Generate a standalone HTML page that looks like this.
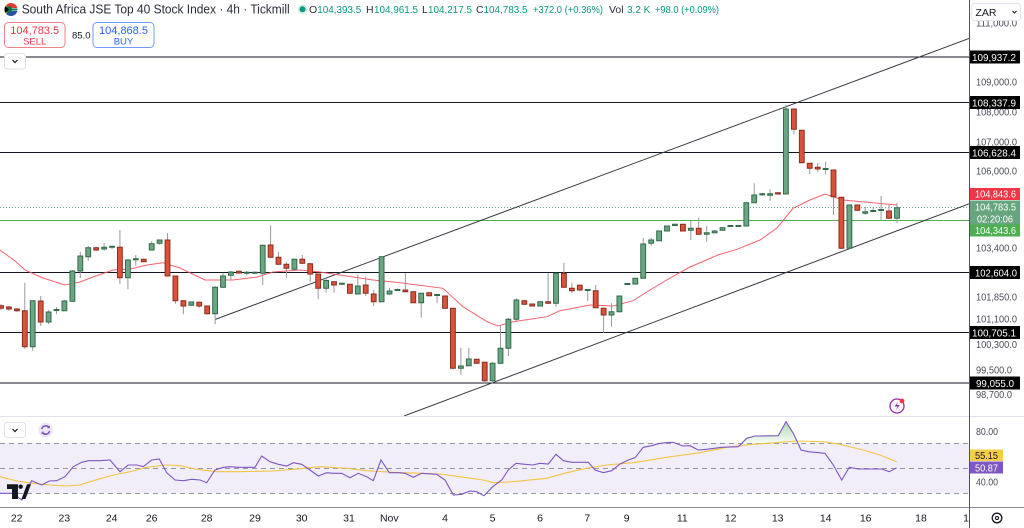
<!DOCTYPE html>
<html><head><meta charset="utf-8"><style>
html,body{margin:0;padding:0;background:#fff;}
svg{display:block;font-family:"Liberation Sans",sans-serif;}
.w{stroke:#9a9a9a;stroke-width:1;fill:none}
.g{fill:#6ba583;stroke:#2f6b48;stroke-width:1}
.r{fill:#d9533b;stroke:#8b2c1e;stroke-width:1}
.ax{font-size:10.5px;fill:#4a4d57}
.bl{font-size:10.5px;fill:#fff}
.xl{font-size:10.5px;fill:#131722;text-anchor:middle}
.hd{font-size:10.5px;fill:#2a2e39}
.hv{font-size:10px;fill:#089981}
</style></head><body>
<svg width="1024" height="528" viewBox="0 0 1024 528" xmlns="http://www.w3.org/2000/svg">
<rect width="1024" height="528" fill="#fff"/>
<defs>
<linearGradient id="gf" x1="0" y1="0" x2="0" y2="1"><stop offset="0" stop-color="#4caf50" stop-opacity="0.45"/><stop offset="1" stop-color="#4caf50" stop-opacity="0.05"/></linearGradient>
<clipPath id="flag"><circle cx="11" cy="9.5" r="6.5"/></clipPath>
<clipPath id="pane"><rect x="0" y="0" width="969" height="416"/></clipPath>
</defs>

<rect x="0" y="443" width="969" height="50" fill="#f1eef9"/>
<g stroke="#9598a1" stroke-width="1" stroke-dasharray="5 4">
<path d="M0 443.5H969M0 468.5H969M0 493.5H969"/>
</g>

<g stroke="#131722" stroke-width="1">
<path d="M0 57H969M0 102.5H969M0 152.5H969M0 272.5H969M0 332.5H969M0 383H969"/>
</g>
<path d="M0 220.5H969" stroke="#4caf50" stroke-width="1"/>
<path d="M0 207.5H969" stroke="#6aa785" stroke-width="1" stroke-dasharray="1 2"/>

<g clip-path="url(#pane)" stroke="#3a3d45" stroke-width="1" fill="none">
<path d="M215 319.5L969 38.5"/>
<path d="M404 416L969 203.8"/>
</g>

<polyline fill="none" stroke="#f5505e" stroke-width="1" stroke-opacity="0.9" points="0,250 15,261 25,270 43,278 65,285 80,282 93,277 113,270 130,269 147,265 163,262.7 180,268 205,280 233,280 257,277 273,272 300,270 320,272 373,280 400,282.7 443,288.3 463,306.7 487,321.7 498,326 513,321.7 547,316.7 560,310.7 590,305 613,306 633,300.7 650,290 670,278 690,267 718,255 737,249.3 760,240 777,228 793,208.3 810,200 825,194 843,200 897,205"/>

<path class="w" d="M1 304V310M8.9 306V311M16.9 308V312M24.8 282.7V348.7M32.7 300.7V350.7M40.7 296V326M48.6 310V324M56.5 307V314M64.4 300V311M72.4 270V302M80.3 251.7V278M88.2 246V261M96.2 247V251M104.1 243V250.7M112 246V249.3M119.9 230V284.3M127.9 259V289.3M135.8 255V265.7M143.7 258.5V262M151.7 241.3V250.5M159.6 240V244.7M167.5 233.3V276.5M175.4 275.5V303.7M183.4 300V314.3M191.3 301.5V306M199.2 301.5V307.7M207.2 305.5V314.5M215.1 286V324.3M223 272.7V288M230.9 271V280M238.9 270.5V274M246.8 271V275.3M254.7 271.5V274M262.7 244.5V285M270.6 225.3V258M278.5 251.7V265M286.4 261.7V278.3M294.4 258.5V270M302.3 255V264M310.2 263V281.7M318.2 273.5V299.3M326.1 278V292.7M334 281V292.7M341.9 282.5V285M349.9 284V294M357.8 275V294.5M365.7 276.7V296M373.7 290V306M381.6 256V302M389.5 287.7V295M397.4 288.5V291M405.4 273.3V292M413.3 291V303M421.2 293V317.7M429.2 292V296.5M437.1 294V302.7M445 295.5V309M452.9 308V369.5M460.9 347.7V375M468.8 347.7V366.5M476.7 358.5V364M484.7 361.5V383.3M492.6 361.7V383.3M500.5 325V364M508.4 318V356M516.4 298.3V321.7M524.3 300V305M532.2 303.5V306.5M540.2 301V306.5M548.1 273.3V304M556 273V306.7M563.9 262.7V288M571.9 282.7V293.3M579.8 284.5V291M587.7 289V301M595.7 285V308M603.6 307.5V332.7M611.5 303.3V326.7M619.4 295.5V312.5M627.4 283V285M635.3 278V284.5M643.2 238V279M651.2 237.7V245.7M659.1 230.5V241.3M667 225.5V231.5M674.9 223.5V226M682.9 224V231.5M690.8 221V240M698.7 217.7V235M706.7 226V241.7M714.6 230V233.5M722.5 227V231M730.4 225V227M738.4 225V227M746.3 202V226.5M754.2 183.3V203M762.2 193V196M770.1 189.3V201M778 192.5V194.5M785.9 105V194.5M793.9 108.5V134.3M801.8 130V163M809.7 163V174.3M817.7 163V172M825.6 161.7V174.3M833.5 169.5V215M841.4 197V249M849.4 204.5V249M857.3 204.5V211M865.2 206.7V215M873.2 206.7V212M881.1 196V220M889 205V219M897 202.7V223.3"/>

<path class="g" d="M30.3 300.7h4.8v46h-4.8zM46.2 312h4.8v10h-4.8zM54.1 309.5h4.8v1h-4.8zM62 301h4.8v9.7h-4.8zM70 271h4.8v30.3h-4.8zM77.9 256h4.8v15h-4.8zM85.8 247.7h4.8v9h-4.8zM101.7 247.3h4.8v1.7h-4.8zM109.6 246.2h4.8v1h-4.8zM125.5 260h4.8v17.7h-4.8zM133.4 258.8h4.8v1h-4.8zM149.3 243.7h4.8v6.3h-4.8zM157.2 240h4.8v3.3h-4.8zM188.9 302h4.8v3.3h-4.8zM212.7 287.3h4.8v26.4h-4.8zM220.6 276h4.8v11.3h-4.8zM228.5 272h4.8v3.3h-4.8zM244.4 272.2h4.8v1h-4.8zM252.3 272.2h4.8v1h-4.8zM260.3 245.3h4.8v28h-4.8zM292 259.3h4.8v10h-4.8zM323.7 280.5h4.8v7.8h-4.8zM339.5 283.2h4.8v1h-4.8zM355.4 286h4.8v8h-4.8zM379.2 256.7h4.8v45h-4.8zM387.1 291h4.8v3h-4.8zM395 289.5h4.8v1h-4.8zM418.8 293.3h4.8v9.4h-4.8zM434.7 294.5h4.8v1h-4.8zM458.5 366h4.8v2.3h-4.8zM466.4 359h4.8v6.7h-4.8zM490.2 363.3h4.8v17.4h-4.8zM498.1 348.3h4.8v15h-4.8zM506 319.3h4.8v29h-4.8zM514 300h4.8v19.3h-4.8zM537.8 301.7h4.8v4.3h-4.8zM553.6 273.3h4.8v30h-4.8zM585.3 289.5h4.8v1h-4.8zM609.1 311.7h4.8v3.3h-4.8zM617 296h4.8v15.7h-4.8zM625 283.5h4.8v1h-4.8zM632.9 278.3h4.8v5.7h-4.8zM640.8 244h4.8v34.3h-4.8zM648.8 240h4.8v3.3h-4.8zM656.7 231h4.8v9.7h-4.8zM664.6 226h4.8v5h-4.8zM672.5 224.3h4.8v1.2h-4.8zM688.4 228.3h4.8v2h-4.8zM704.3 232.7h4.8v1.6h-4.8zM712.2 231h4.8v1.7h-4.8zM720.1 227.7h4.8v2.6h-4.8zM728 225.5h4.8v1h-4.8zM736 225.5h4.8v1h-4.8zM743.9 202.7h4.8v23.3h-4.8zM751.8 195h4.8v7.7h-4.8zM759.8 193.8h4.8v1h-4.8zM767.7 193.7h4.8v1.6h-4.8zM783.5 109h4.8v85h-4.8zM823.2 168.5h4.8v1h-4.8zM847 205h4.8v43.3h-4.8zM862.8 211.7h4.8v1.6h-4.8zM870.8 210.5h4.8v1h-4.8zM878.7 209.5h4.8v1h-4.8zM894.6 207.7h4.8v10.6h-4.8z"/>

<path class="r" d="M-1.4 305.7h4.8v2.6h-4.8zM6.5 307h4.8v2h-4.8zM14.5 309h4.8v1.7h-4.8zM22.4 310.7h4.8v36h-4.8zM38.3 301h4.8v21h-4.8zM93.8 247.7h4.8v2.3h-4.8zM117.5 247.3h4.8v30.4h-4.8zM141.3 259.3h4.8v2.4h-4.8zM165.1 240h4.8v36h-4.8zM173 276h4.8v24.7h-4.8zM181 300.7h4.8v5.3h-4.8zM196.8 302.3h4.8v3.7h-4.8zM204.8 306h4.8v7.7h-4.8zM236.5 271.3h4.8v1.7h-4.8zM268.2 245h4.8v12.3h-4.8zM276.1 257.3h4.8v7h-4.8zM284 264.3h4.8v4h-4.8zM299.9 259.3h4.8v4h-4.8zM307.8 263.7h4.8v10.3h-4.8zM315.8 274h4.8v14.3h-4.8zM331.6 281.7h4.8v3.3h-4.8zM347.5 284.3h4.8v9h-4.8zM363.3 285h4.8v8.3h-4.8zM371.3 294h4.8v7.7h-4.8zM403 290h4.8v1.7h-4.8zM410.9 291.7h4.8v11h-4.8zM426.8 292.7h4.8v3h-4.8zM442.6 296h4.8v12.3h-4.8zM450.5 308.3h4.8v60h-4.8zM474.3 359.3h4.8v4h-4.8zM482.3 362.3h4.8v18.4h-4.8zM521.9 300.7h4.8v3.6h-4.8zM529.8 304h4.8v2h-4.8zM545.7 301.7h4.8v1.6h-4.8zM561.5 273.3h4.8v14h-4.8zM569.5 288.3h4.8v2.4h-4.8zM577.4 285.3h4.8v4.7h-4.8zM593.3 290.7h4.8v17h-4.8zM601.2 308.3h4.8v6.7h-4.8zM680.5 224.3h4.8v6.7h-4.8zM696.3 228.3h4.8v6h-4.8zM775.6 192.8h4.8v1.2h-4.8zM791.5 109h4.8v20.3h-4.8zM799.4 130.3h4.8v32.4h-4.8zM807.3 163.3h4.8v5h-4.8zM815.3 167.3h4.8v1.7h-4.8zM831.1 170h4.8v26.7h-4.8zM839 197.3h4.8v51h-4.8zM854.9 205h4.8v5.3h-4.8zM886.6 211h4.8v7.3h-4.8z"/>

<circle cx="897" cy="406" r="7" fill="#fff" stroke="#9c27b0" stroke-width="1.3"/>
<path d="M898.5 401.5L894.5 406.5H897.5L895.5 410.5L899.8 405H896.8Z" fill="#9c27b0"/>
<circle cx="902" cy="401" r="2.4" fill="#f23645"/>

<path d="M0 416.5H1024" stroke="#e0e3eb" stroke-width="1"/>
<path d="M0 507.5H1024" stroke="#8a8d96" stroke-width="1"/>

<polygon fill="url(#gf)" points="742,443 746.7,438.3 755,436 778.3,435.7 786,421.7 793.3,433.3 797.8,443"/>
<polyline fill="none" stroke="#f5c542" stroke-width="1.1" points="0,476.7 16.7,481 33.3,483.3 50,485 66.7,486 80,485 93.3,480.7 113.3,475 133.3,471 146.7,467.3 166.7,465 180,465.7 196.7,469.3 216.7,471.7 240,471.7 273.3,471 293.3,469.3 320,466.7 346.7,468.3 366.7,470.7 393.3,472.3 420,473.3 440,474 466.7,477.7 483.3,480 493.3,482.7 513.3,481.7 546.7,478.3 566.7,472.7 586.7,468.3 606.7,465 633.3,462.7 666.7,457.3 700,452.7 726.7,447.3 753.3,444.3 780,442.3 796.7,441 823.3,441.7 840,444.3 863.3,450 880,455 896.7,461.7"/>
<polyline fill="none" stroke="#7e57c2" stroke-width="1.1" points="0,493.3 12,493.3 22,500 31.7,480.7 41.7,485 49.3,481 56.7,480.7 65,476.7 73.3,466.7 81.7,462.3 88.3,460.7 100,460.7 110,460 120,471.7 128.3,465 136.7,465 143.3,466.7 151.7,460 159.3,459 166.7,472.7 175,480 183.3,480.7 191.7,479.3 200,480 206.7,482.7 215,470 223.3,467.3 230,466.7 238.3,467.3 255,467.3 261.7,456 270,461.7 278.3,464.3 286.7,466 293.3,462.7 301.7,464.3 310,470 318.3,476 326.7,472.7 333.3,473.3 341.7,473.3 350,477.7 358.3,473.3 366.7,476.7 373.3,480.7 381,460 389.3,472.7 398.3,472.7 405,473.3 413.3,477.3 421.7,473.3 436.7,474.3 445,480 453.3,495 461.7,494.3 470,491 476.7,491.7 484,495.7 492.7,486.7 501.7,480 508.3,470 516,463.3 525,464.3 532.7,465 540,463.3 548.3,464 556,454.3 563.3,460.7 571.7,462.3 588.3,462.3 595,470 603.3,472.7 611.7,470.7 620,464 628.3,460 635,457.7 643.3,447.3 651.7,445.7 660,443.3 666.7,442.7 673.3,442.3 682.7,446 690,445.7 698.3,450 706.7,449.3 721.7,447.3 738.3,446.7 746.7,438.3 755,436 778.3,435.7 786,421.7 793.3,433.3 801,450 808.3,451.7 825,453.3 833.3,465 841.7,480 849.3,467.3 858.3,469 881.7,469 889.3,471.7 896.7,467.7"/>

<g fill="#131722">
<path d="M7 484.3H18V499H12V489H7Z"/>
<circle cx="20.7" cy="486.7" r="2.2"/>
<path d="M27 484.3H31L25.5 499H21.5Z"/>
</g>

<rect x="4.5" y="422.5" width="21" height="15" rx="3" fill="#fff" stroke="#dfe1e6"/>
<path d="M12.5 429L15 431.5L17.5 429" fill="none" stroke="#131722" stroke-width="1.2"/>
<circle cx="45.7" cy="430" r="7.5" fill="#ede7f6"/>
<path d="M41.8 429A4 4 0 0 1 49 427.5M49.6 431A4 4 0 0 1 42.4 432.5" fill="none" stroke="#7e57c2" stroke-width="1.6"/>
<path d="M49.8 425.5V428.2H47.1Z M41.6 434.5V431.8H44.3Z" fill="#7e57c2"/>

<text class="xl" x="16.7" y="521.5">22</text>
<text class="xl" x="64.3" y="521.5">23</text>
<text class="xl" x="111.7" y="521.5">24</text>
<text class="xl" x="151.7" y="521.5">26</text>
<text class="xl" x="206.7" y="521.5">28</text>
<text class="xl" x="255" y="521.5">29</text>
<text class="xl" x="301.7" y="521.5">30</text>
<text class="xl" x="349" y="521.5">31</text>
<text class="xl" x="389.3" y="521.5">Nov</text>
<text class="xl" x="445" y="521.5">4</text>
<text class="xl" x="492.5" y="521.5">5</text>
<text class="xl" x="540" y="521.5">6</text>
<text class="xl" x="587.3" y="521.5">7</text>
<text class="xl" x="626.7" y="521.5">9</text>
<text class="xl" x="682.3" y="521.5">11</text>
<text class="xl" x="730.7" y="521.5">12</text>
<text class="xl" x="777.7" y="521.5">13</text>
<text class="xl" x="825.7" y="521.5">14</text>
<text class="xl" x="865.7" y="521.5">16</text>
<text class="xl" x="921" y="521.5">18</text>
<text class="xl" x="969" y="521.5">19</text>

<rect x="970" y="508" width="54" height="20" fill="#fff"/>
<circle cx="997" cy="518" r="4.8" fill="none" stroke="#131722" stroke-width="1.3"/>
<circle cx="997" cy="518" r="1.6" fill="none" stroke="#131722" stroke-width="1.1"/>

<path d="M969.5 0V528" stroke="#50535e" stroke-width="1"/>

<g class="ax">
<text x="976" y="26.7" textLength="41" lengthAdjust="spacingAndGlyphs">111,000.0</text>
<text x="976" y="85.7" textLength="41" lengthAdjust="spacingAndGlyphs">109,000.0</text>
<text x="976" y="115.7" textLength="41" lengthAdjust="spacingAndGlyphs">108,000.0</text>
<text x="976" y="145.7" textLength="41" lengthAdjust="spacingAndGlyphs">107,000.0</text>
<text x="976" y="174.7" textLength="41" lengthAdjust="spacingAndGlyphs">106,000.0</text>
<text x="976" y="251.7" textLength="41" lengthAdjust="spacingAndGlyphs">103,400.0</text>
<text x="976" y="300.4" textLength="41" lengthAdjust="spacingAndGlyphs">101,850.0</text>
<text x="976" y="322.7" textLength="41" lengthAdjust="spacingAndGlyphs">101,100.0</text>
<text x="976" y="348" textLength="41" lengthAdjust="spacingAndGlyphs">100,300.0</text>
<text x="976" y="373.7" textLength="36" lengthAdjust="spacingAndGlyphs">99,500.0</text>
<text x="976" y="398" textLength="36" lengthAdjust="spacingAndGlyphs">98,700.0</text>
<text x="976" y="435.2" textLength="22" lengthAdjust="spacingAndGlyphs">80.00</text>
<text x="976" y="485.4" textLength="22" lengthAdjust="spacingAndGlyphs">40.00</text>
</g>

<rect x="971.5" y="3.5" width="49" height="17" rx="3" fill="#fff" stroke="#e0e3eb"/>
<text x="975.5" y="15.8" font-size="10.5" fill="#131722">ZAR</text>
<path d="M1012.5 11L1014.5 13L1016.5 11" fill="none" stroke="#131722" stroke-width="1"/>

<g>
<rect x="970" y="50.5" width="50" height="13" fill="#000"/>
<rect x="970" y="96" width="50" height="13" fill="#000"/>
<rect x="970" y="146" width="50" height="13" fill="#000"/>
<rect x="970" y="266" width="50" height="13" fill="#000"/>
<rect x="970" y="326" width="50" height="13" fill="#000"/>
<rect x="970" y="376.5" width="50" height="13" fill="#000"/>
</g>
<g class="bl">
<text x="972" y="60.8" textLength="44" lengthAdjust="spacingAndGlyphs">109,937.2</text>
<text x="972" y="106.3" textLength="44" lengthAdjust="spacingAndGlyphs">108,337.9</text>
<text x="972" y="156.3" textLength="44" lengthAdjust="spacingAndGlyphs">106,628.4</text>
<text x="975" y="276.3" textLength="42" lengthAdjust="spacingAndGlyphs">102,604.0</text>
<text x="972" y="336.3" textLength="44" lengthAdjust="spacingAndGlyphs">100,705.1</text>
<text x="976" y="386.8" textLength="38" lengthAdjust="spacingAndGlyphs">99,055.0</text>
</g>

<rect x="970" y="188" width="50" height="12" fill="#f23645"/>
<text class="bl" x="975" y="197.7" textLength="41" lengthAdjust="spacingAndGlyphs">104,843.6</text>
<rect x="970" y="200.5" width="50" height="24" fill="#67a57f"/>
<text class="bl" x="975" y="210.5" textLength="41" lengthAdjust="spacingAndGlyphs">104,783.5</text>
<text class="bl" x="977" y="222.4" textLength="36" lengthAdjust="spacingAndGlyphs">02:20:06</text>
<rect x="970" y="224.5" width="50" height="12" fill="#4caf50"/>
<text class="bl" x="975" y="234.2" textLength="41" lengthAdjust="spacingAndGlyphs">104,343.6</text>

<rect x="970" y="449.5" width="33" height="11.5" fill="#f5cd47"/>
<text x="975" y="459" font-size="10.5" fill="#131722" textLength="23" lengthAdjust="spacingAndGlyphs">55.15</text>
<rect x="970" y="461.5" width="33" height="12" fill="#7e57c2"/>
<text class="bl" x="975" y="471.3" textLength="23" lengthAdjust="spacingAndGlyphs">50.87</text>

<g clip-path="url(#flag)">
<rect x="4" y="2" width="14" height="15" fill="#fff"/>
<rect x="4" y="2" width="14" height="6" fill="#e03c31"/>
<rect x="4" y="11" width="14" height="7" fill="#2a4fa8"/>
<path d="M4 3L11 9.5L4 16Z" fill="#ffb612"/>
<path d="M4 6.5H10.5L12 8.5H18V10.5H12L10.5 12.5H4Z" fill="#007749"/>
<path d="M4 5L9 9.5L4 14Z" fill="#000"/>
</g>
<text x="21.7" y="13.7" font-size="12.5" fill="#2a2e39" textLength="268" lengthAdjust="spacingAndGlyphs">South Africa JSE Top 40 Stock Index · 4h · Tickmill</text>
<circle cx="302.5" cy="9.3" r="5" fill="#d5efe7"/>
<circle cx="302.5" cy="9.3" r="3" fill="#089981"/>
<text class="hd" x="309" y="13">O</text>
<text class="hv" x="317.3" y="13" textLength="44" lengthAdjust="spacingAndGlyphs">104,393.5</text>
<text class="hd" x="366" y="13">H</text>
<text class="hv" x="374" y="13" textLength="44" lengthAdjust="spacingAndGlyphs">104,961.5</text>
<text class="hd" x="422" y="13">L</text>
<text class="hv" x="428" y="13" textLength="44" lengthAdjust="spacingAndGlyphs">104,217.5</text>
<text class="hd" x="476" y="13">C</text>
<text class="hv" x="483.5" y="13" textLength="44" lengthAdjust="spacingAndGlyphs">104,783.5</text>
<text class="hv" x="533" y="13" textLength="70" lengthAdjust="spacingAndGlyphs">+372.0 (+0.36%)</text>
<text class="hd" x="609" y="13">Vol</text>
<text class="hv" x="627" y="13">3.2 K</text>
<text class="hv" x="655" y="13" textLength="64" lengthAdjust="spacingAndGlyphs">+98.0 (+0.09%)</text>

<rect x="4.5" y="22.5" width="60.5" height="25" rx="4" fill="#fff" stroke="#f5818b"/>
<text x="34.7" y="34" font-size="11" fill="#f23645" text-anchor="middle">104,783.5</text>
<text x="34.7" y="44.3" font-size="9.5" fill="#f23645" text-anchor="middle">SELL</text>
<text x="72" y="38.3" font-size="9.5" fill="#131722">85.0</text>
<rect x="93" y="22.5" width="61" height="25" rx="4" fill="#fff" stroke="#7199ff"/>
<text x="123.5" y="34" font-size="11" fill="#2962ff" text-anchor="middle">104,868.5</text>
<text x="123.5" y="44.3" font-size="9.5" fill="#2962ff" text-anchor="middle">BUY</text>

<rect x="4.5" y="53.5" width="21" height="15.5" rx="3" fill="#fff" stroke="#dfe1e6"/>
<path d="M12.5 60L15 62.5L17.5 60" fill="none" stroke="#131722" stroke-width="1.2"/>
</svg>
</body></html>
